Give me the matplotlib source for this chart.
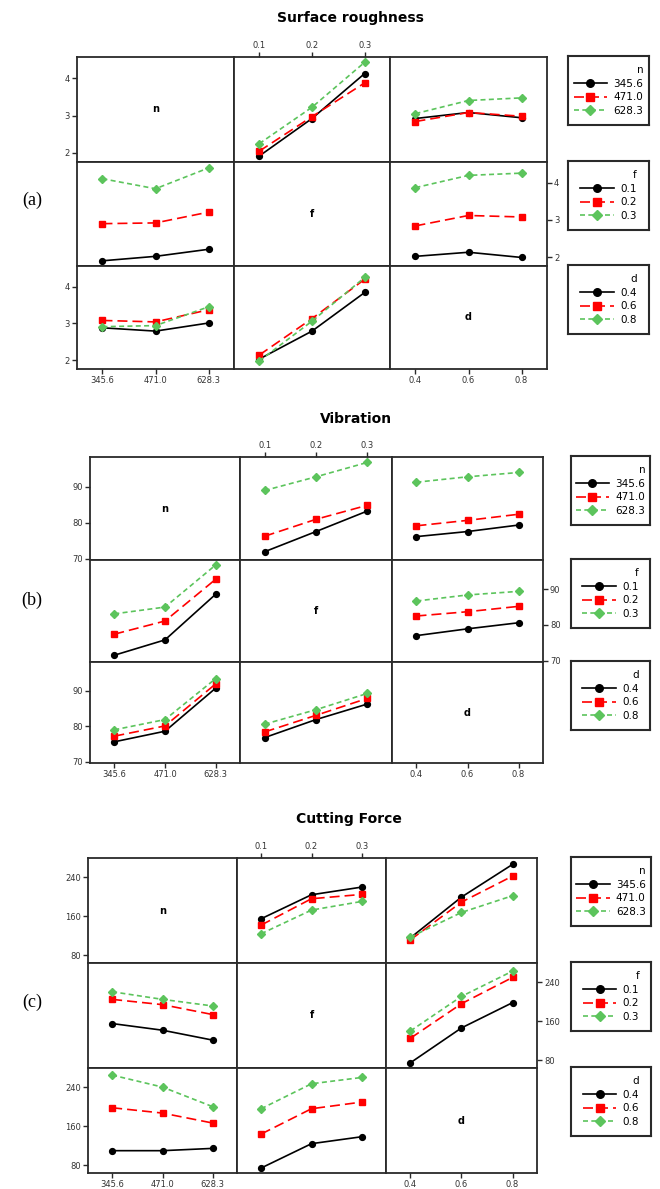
import matplotlib
matplotlib.use('Agg')
import matplotlib.pyplot as plt

# factor levels (plotted as equally spaced categories, like Minitab)
n_levels = ['345.6', '471.0', '628.3']
f_levels = ['0.1', '0.2', '0.3']
d_levels = ['0.4', '0.6', '0.8']

# each list: one row per level of the trace (legend) factor
# Surface roughness
sr_f_by_n = [[1.92, 2.92, 4.12], [2.05, 2.97, 3.87], [2.25, 3.22, 4.42]]
sr_d_by_n = [[2.92, 3.08, 2.94], [2.84, 3.08, 2.98], [3.05, 3.40, 3.47]]
sr_n_by_f = [[1.90, 2.02, 2.21], [2.90, 2.92, 3.21], [4.11, 3.84, 4.40]]
sr_d_by_f = [[2.02, 2.13, 1.99], [2.84, 3.12, 3.08], [3.87, 4.20, 4.26]]
sr_n_by_d = [[2.88, 2.79, 3.01], [3.08, 3.04, 3.37], [2.91, 2.94, 3.45]]
sr_f_by_d = [[2.03, 2.79, 3.84], [2.14, 3.13, 4.20], [1.98, 3.06, 4.25]]

# Vibration
vb_f_by_n = [[71.9, 77.5, 83.2], [76.2, 80.9, 84.8], [88.9, 92.7, 96.7]]
vb_d_by_n = [[76.1, 77.5, 79.3], [79.1, 80.6, 82.3], [91.2, 92.7, 93.9]]
vb_n_by_f = [[71.5, 75.8, 88.6], [77.4, 81.1, 92.8], [83.1, 85.0, 96.8]]
vb_d_by_f = [[77.0, 78.9, 80.6], [82.5, 83.7, 85.2], [86.7, 88.4, 89.4]]
vb_n_by_d = [[75.6, 78.6, 90.8], [77.2, 80.1, 92.0], [79.0, 81.9, 93.5]]
vb_f_by_d = [[76.8, 81.9, 86.3], [78.4, 83.1, 87.9], [80.6, 84.7, 89.3]]

# Cutting force
cf_f_by_n = [[154.9, 203.9, 219.6], [142.0, 195.8, 204.6], [124.3, 172.6, 190.3]]
cf_d_by_n = [[116.1, 199.2, 265.9], [112.0, 188.9, 242.0], [117.5, 167.8, 201.9]]
cf_n_by_f = [[155.3, 141.7, 121.4], [204.7, 193.9, 173.6], [220.3, 204.7, 191.2]]
cf_d_by_f = [[75.3, 146.4, 198.0], [125.4, 195.9, 249.5], [140.3, 210.8, 262.4]]
cf_n_by_d = [[110.1, 110.1, 114.8], [197.8, 186.9, 166.5], [264.5, 240.0, 199.9]]
cf_f_by_d = [[74.7, 124.4, 138.6], [144.1, 195.8, 209.4], [195.8, 246.8, 259.7]]

factors = ['n', 'f', 'd']
levels = [n_levels, f_levels, d_levels]

W, H = 660, 1189
fig = plt.figure(figsize=(W / 100, H / 100), dpi=100)

styles = [dict(color='black', ls='-', marker='o', ms=4.2),
          dict(color='#ff0000', ls=(0, (6, 3)), marker='s', ms=4),
          dict(color='#5cc45c', ls=(0, (3, 2)), marker='D', ms=3.6)]
EDGE = '#2a2a2a'


def px_axes(left, top, right, bottom):
    return fig.add_axes([left / W, 1 - bottom / H, (right - left) / W, (bottom - top) / H])


panels = [
    dict(title='Surface roughness', tag='(a)', tag_y=200, title_x=350, title_y=18,
         cols=[77, 234, 390, 547], rows=[57, 162, 266, 369], leg=[568, 649],
         ylim=(1.76, 4.56), yticks=[2, 3, 4],
         cells={(0, 1): sr_f_by_n, (0, 2): sr_d_by_n, (1, 0): sr_n_by_f,
                (1, 2): sr_d_by_f, (2, 0): sr_n_by_d, (2, 1): sr_f_by_d}),
    dict(title='Vibration', tag='(b)', tag_y=600, title_x=356, title_y=419,
         cols=[90, 240, 392, 543], rows=[457, 560, 662, 763], leg=[571, 650],
         ylim=(69.6, 98.2), yticks=[70, 80, 90],
         cells={(0, 1): vb_f_by_n, (0, 2): vb_d_by_n, (1, 0): vb_n_by_f,
                (1, 2): vb_d_by_f, (2, 0): vb_n_by_d, (2, 1): vb_f_by_d}),
    dict(title='Cutting Force', tag='(c)', tag_y=1002, title_x=349, title_y=819,
         cols=[88, 237, 386, 537], rows=[858, 963, 1068, 1173], leg=[571, 651],
         ylim=(64.5, 279), yticks=[80, 160, 240],
         cells={(0, 1): cf_f_by_n, (0, 2): cf_d_by_n, (1, 0): cf_n_by_f,
                (1, 2): cf_d_by_f, (2, 0): cf_n_by_d, (2, 1): cf_f_by_d}),
]

for p in panels:
    fig.text(p['title_x'] / W, 1 - p['title_y'] / H, p['title'], ha='center', va='center',
             fontsize=10, fontweight='bold')
    fig.text(32 / W, 1 - p['tag_y'] / H, p['tag'], ha='center', va='center',
             fontsize=13, family='Liberation Serif')
    for i in range(3):
        for j in range(3):
            ax = px_axes(p['cols'][j], p['rows'][i], p['cols'][j + 1], p['rows'][i + 1])
            ax.set_xlim(-0.48, 2.48)
            ax.set_ylim(*p['ylim'])
            for s in ax.spines.values():
                s.set_linewidth(1.3)
                s.set_color(EDGE)
            ax.tick_params(length=0, labelleft=False, labelbottom=False)
            ax.set_xticks([])
            ax.set_yticks([])
            if i == j:
                ax.text(0.5, 0.5, factors[i], transform=ax.transAxes, ha='center',
                        va='center', fontsize=7, fontweight='bold')
            else:
                data = p['cells'][(i, j)]
                for k, vals in enumerate(data):
                    ax.plot(range(3), vals, lw=1.2, **styles[k])
            tk = dict(labelsize=6, length=3.5, width=1.0, color=EDGE,
                      labelcolor='#333333', pad=1.5)
            if j == 0 and i != 1:
                ax.set_yticks(p['yticks'])
                ax.tick_params(axis='y', left=True, labelleft=True, **tk)
            if j == 2 and i == 1:
                ax.set_yticks(p['yticks'])
                ax.yaxis.tick_right()
                ax.tick_params(axis='y', right=True, labelright=True, **tk)
            if i == 0 and j == 1:
                ax.set_xticks(range(3))
                ax.set_xticklabels(levels[j])
                ax.xaxis.tick_top()
                ax.tick_params(axis='x', top=True, labeltop=True, **tk)
            if i == 2 and j != 1:
                ax.set_xticks(range(3))
                ax.set_xticklabels(levels[j])
                ax.tick_params(axis='x', bottom=True, labelbottom=True, **tk)

        # legend box for this row's trace factor
        lax = px_axes(p['leg'][0], p['rows'][i] - 1, p['leg'][1], p['rows'][i] + 68)
        lax.set_xticks([])
        lax.set_yticks([])
        for s in lax.spines.values():
            s.set_linewidth(1.5)
            s.set_color(EDGE)
        handles = [plt.Line2D([], [], lw=1.2, **styles[k]) for k in range(3)]
        lax.legend(handles, levels[i], title=factors[i], loc='center', frameon=False,
                   fontsize=7.5, title_fontsize=7.5, alignment='right', handlelength=3.2,
                   handletextpad=0.6, labelspacing=0.35, borderpad=0.2, markerscale=1.3)

plt.savefig('out.png', dpi=100)
